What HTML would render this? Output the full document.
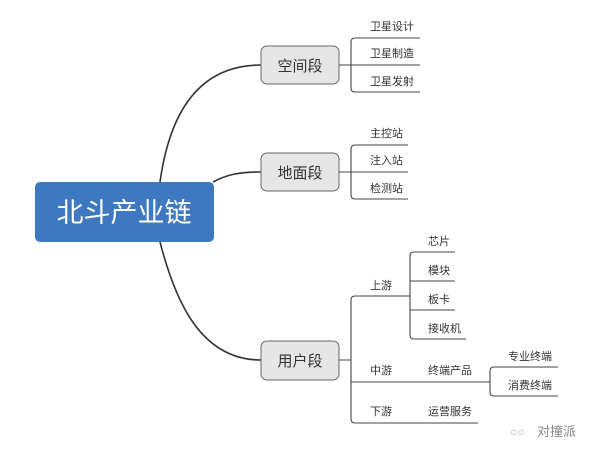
<!DOCTYPE html>
<html><head><meta charset="utf-8"><style>
body{margin:0;background:#fff}
svg text{font-family:"Liberation Sans","Noto Sans CJK SC",sans-serif;fill:#333}
</style></head><body>
<svg width="600" height="455" viewBox="0 0 600 455" xmlns="http://www.w3.org/2000/svg">
<g fill="none" stroke="#333" stroke-width="1.6">
<path d="M160 182 C170 110 200 65 261 65"/>
<path d="M213 182 C228 174 240 172 261 172"/>
<path d="M160 242 C175 300 200 360 261 360"/>
</g>
<g fill="none" stroke="#444" stroke-width="1.1">
<path d="M339 65 H351 M420 38 H355 Q351 38 351 42 V88 Q351 92 355 92 H420 M351 65 H420"/>
<path d="M339 172 H351 M408 145 H355 Q351 145 351 149 V195 Q351 199 355 199 H408 M351 172 H408"/>
<path d="M339 360 H351 M410 296 H355 Q351 296 351 300 V419 Q351 423 355 423 H478 M351 382 H490"/>
<path d="M455 252 H414 Q410 252 410 256 V335 Q410 339 414 339 H466 M410 281 H455 M410 310 H455"/>
<path d="M558 367 H494 Q490 367 490 371 V392 Q490 396 494 396 H558"/>
</g>
<rect x="35" y="182" width="179" height="60" rx="5" fill="#3d78c0"/>
<text x="124" y="222" font-size="27" text-anchor="middle" style="fill:#fff">北斗产业链</text>
<g fill="#e6e6e6" stroke="#666" stroke-width="1">
<rect x="261" y="46" width="78" height="38" rx="6"/>
<rect x="261" y="153" width="78" height="38" rx="6"/>
<rect x="261" y="341" width="78" height="39" rx="6"/>
</g>
<g font-size="15" text-anchor="middle">
<text x="300" y="71">空间段</text>
<text x="300" y="178">地面段</text>
<text x="300" y="366">用户段</text>
</g>
<g font-size="11">
<text x="370" y="30">卫星设计</text>
<text x="370" y="57">卫星制造</text>
<text x="370" y="85">卫星发射</text>
<text x="370" y="137">主控站</text>
<text x="370" y="164">注入站</text>
<text x="370" y="192">检测站</text>
<text x="370" y="289">上游</text>
<text x="370" y="374">中游</text>
<text x="370" y="415">下游</text>
<text x="428" y="245">芯片</text>
<text x="428" y="274">模块</text>
<text x="428" y="303">板卡</text>
<text x="428" y="332">接收机</text>
<text x="428" y="374">终端产品</text>
<text x="428" y="415">运营服务</text>
<text x="508" y="360">专业终端</text>
<text x="508" y="389">消费终端</text>
</g>
<text x="537" y="436" font-size="13" style="fill:#888">对撞派</text>
<text x="510" y="436" font-size="12" style="fill:#aaa">○○</text>
</svg>
</body></html>
